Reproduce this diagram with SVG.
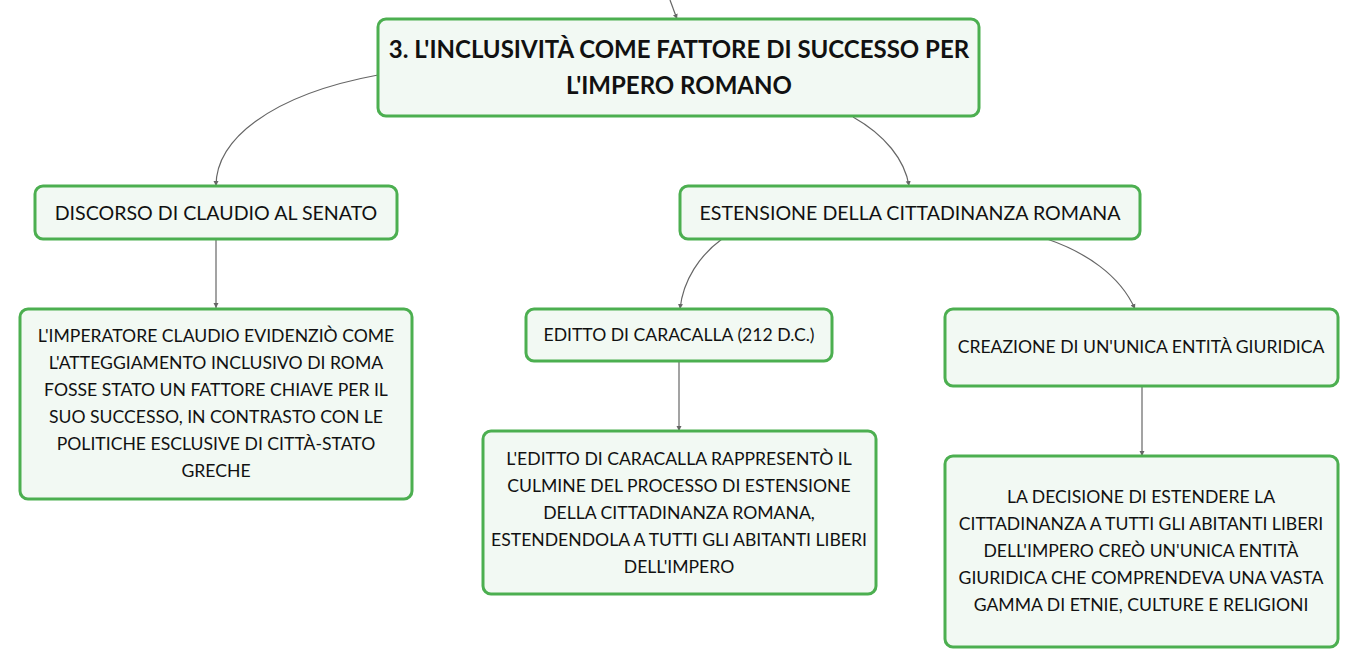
<svg xmlns="http://www.w3.org/2000/svg" width="1359" height="668" viewBox="0 0 1359 668">
<style>
.box{fill:#f2f9f3;stroke:#4caf50;stroke-width:3}
.t{font-family:Lato,"Open Sans",sans-serif;fill:#111;text-anchor:middle}
.h{font-size:24px;font-weight:bold}
.m{font-size:19.6px}
.s{font-size:17.6px}
.c{fill:none;stroke:#666;stroke-width:1.2}
</style>
<defs>
<marker id="a" markerWidth="6" markerHeight="6" refX="5" refY="3" orient="auto" markerUnits="userSpaceOnUse">
<path d="M0,0.5 L5,3 L0,5.5 Z" fill="#666"/>
</marker>
</defs>
<rect width="1359" height="668" fill="#fff"/>
<g id="connectors">
<path class="c" d="M670,0 L677,19" marker-end="url(#a)"/>
<path class="c" d="M378,75 C270,95 216,140 216,186" marker-end="url(#a)"/>
<path class="c" d="M853,117 C885,135 905,160 909,186" marker-end="url(#a)"/>
<path class="c" d="M216,239 L216,308" marker-end="url(#a)"/>
<path class="c" d="M722,239 C700,255 683,280 680,309" marker-end="url(#a)"/>
<path class="c" d="M1047,239 C1085,252 1120,275 1135,309" marker-end="url(#a)"/>
<path class="c" d="M679,361 L679,431" marker-end="url(#a)"/>
<path class="c" d="M1142,386 L1142,456" marker-end="url(#a)"/>
</g>
<g id="root">
<rect class="box" x="378" y="19" width="601" height="97" rx="8"/>
<text class="t h" x="679" y="58">3. L'INCLUSIVITÀ COME FATTORE DI SUCCESSO PER</text>
<text class="t h" x="679" y="94">L'IMPERO ROMANO</text>
</g>
<g id="discorso">
<rect class="box" x="35" y="186" width="362" height="53" rx="8"/>
<text class="t m" x="216" y="220">DISCORSO DI CLAUDIO AL SENATO</text>
</g>
<g id="estensione">
<rect class="box" x="680" y="186" width="460" height="53" rx="8"/>
<text class="t m" x="910" y="220">ESTENSIONE DELLA CITTADINANZA ROMANA</text>
</g>
<g id="imperatore">
<rect class="box" x="20" y="309" width="392" height="190" rx="8"/>
<text class="t s" x="216" y="342">L'IMPERATORE CLAUDIO EVIDENZIÒ COME</text>
<text class="t s" x="216" y="369">L'ATTEGGIAMENTO INCLUSIVO DI ROMA</text>
<text class="t s" x="216" y="396">FOSSE STATO UN FATTORE CHIAVE PER IL</text>
<text class="t s" x="216" y="423">SUO SUCCESSO, IN CONTRASTO CON LE</text>
<text class="t s" x="216" y="450">POLITICHE ESCLUSIVE DI CITTÀ-STATO</text>
<text class="t s" x="216" y="477">GRECHE</text>
</g>
<g id="editto">
<rect class="box" x="526" y="309" width="306" height="52" rx="8"/>
<text class="t s" x="679" y="341">EDITTO DI CARACALLA (212 D.C.)</text>
</g>
<g id="creazione">
<rect class="box" x="945" y="309" width="393" height="77" rx="8"/>
<text class="t s" x="1141" y="353">CREAZIONE DI UN'UNICA ENTITÀ GIURIDICA</text>
</g>
<g id="editto-desc">
<rect class="box" x="483" y="431" width="393" height="163" rx="8"/>
<text class="t s" x="679" y="465">L'EDITTO DI CARACALLA RAPPRESENTÒ IL</text>
<text class="t s" x="679" y="492">CULMINE DEL PROCESSO DI ESTENSIONE</text>
<text class="t s" x="679" y="519">DELLA CITTADINANZA ROMANA,</text>
<text class="t s" x="679" y="546">ESTENDENDOLA A TUTTI GLI ABITANTI LIBERI</text>
<text class="t s" x="679" y="573">DELL'IMPERO</text>
</g>
<g id="decisione">
<rect class="box" x="945" y="456" width="393" height="191" rx="8"/>
<text class="t s" x="1141" y="503">LA DECISIONE DI ESTENDERE LA</text>
<text class="t s" x="1141" y="530">CITTADINANZA A TUTTI GLI ABITANTI LIBERI</text>
<text class="t s" x="1141" y="557">DELL'IMPERO CREÒ UN'UNICA ENTITÀ</text>
<text class="t s" x="1141" y="584">GIURIDICA CHE COMPRENDEVA UNA VASTA</text>
<text class="t s" x="1141" y="611">GAMMA DI ETNIE, CULTURE E RELIGIONI</text>
</g>
</svg>
